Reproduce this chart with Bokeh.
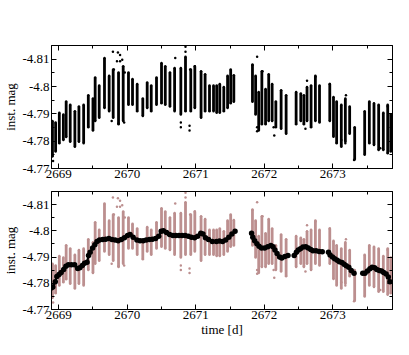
from bokeh.plotting import figure
from bokeh.models import Range1d, LinearAxis, FixedTicker, CustomJSTickFormatter
from bokeh.layouts import column
from bokeh.embed import file_html
from bokeh.resources import INLINE

# ---- data ----
# dense pulsation streaks: time, upper (brighter) mag, lower mag
streak_t = [2668.909, 2668.955, 2669.009, 2669.068, 2669.109, 2669.168, 2669.236, 2669.295,
            2669.364, 2669.432, 2669.500, 2669.532, 2669.591, 2669.668, 2669.736, 2669.795,
            2669.873, 2669.941, 2670.018, 2670.077, 2670.145, 2670.227, 2670.291, 2670.350,
            2670.427, 2670.500, 2670.555, 2670.623, 2670.691, 2670.782, 2670.850, 2670.927,
            2670.986, 2671.077, 2671.136, 2671.200, 2671.259, 2671.305, 2671.350, 2671.409,
            2671.464, 2671.509, 2671.555, 2671.827, 2671.873, 2671.918, 2671.964, 2672.018,
            2672.064, 2672.114, 2672.168, 2672.245, 2672.318, 2672.464, 2672.532, 2672.577,
            2672.623, 2672.682, 2672.745, 2672.805, 2672.955, 2673.009, 2673.055, 2673.123,
            2673.182, 2673.245, 2673.318, 2673.464, 2673.532, 2673.600, 2673.668, 2673.736,
            2673.800, 2673.845]
streak_hi = [-4.7874, -4.7868, -4.7904, -4.7898, -4.7945, -4.7933, -4.7909, -4.7927,
             -4.7933, -4.7968, -4.7956, -4.8033, -4.8004, -4.8104, -4.8039, -4.8062,
             -4.8051, -4.8074, -4.8051, -4.8027, -4.8009, -4.7956, -4.8015, -4.8004,
             -4.8033, -4.8086, -4.8074, -4.8051, -4.8068, -4.8068, -4.8109, -4.8062,
             -4.8074, -4.8056, -4.8045, -4.8004, -4.8004, -4.8004, -4.8009, -4.7998,
             -4.8039, -4.8062, -4.8041, -4.8080, -4.8039, -4.7980, -4.8056, -4.7991,
             -4.8045, -4.8009, -4.7945, -4.7986, -4.7968, -4.7980, -4.7974, -4.7968,
             -4.7998, -4.8004, -4.8039, -4.8004, -4.8009, -4.7962, -4.7945, -4.7933,
             -4.7956, -4.7927, -4.7851, -4.7909, -4.7945, -4.7939, -4.7933, -4.7904,
             -4.7933, -4.7898]
streak_lo = [-4.7745, -4.7762, -4.7792, -4.7804, -4.7815, -4.7798, -4.7780, -4.7798,
             -4.7792, -4.7851, -4.7839, -4.7874, -4.7886, -4.7921, -4.7909, -4.7886,
             -4.7862, -4.7874, -4.7933, -4.7933, -4.7909, -4.7892, -4.7921, -4.7909,
             -4.7933, -4.7939, -4.7933, -4.7927, -4.7909, -4.7898, -4.7909, -4.7909,
             -4.7921, -4.7886, -4.7909, -4.7909, -4.7909, -4.7904, -4.7904, -4.7909,
             -4.7921, -4.7939, -4.7944, -4.7944, -4.7898, -4.7839, -4.7862, -4.7862,
             -4.7874, -4.7874, -4.7851, -4.7845, -4.7827, -4.7862, -4.7874, -4.7862,
             -4.7874, -4.7851, -4.7874, -4.7868, -4.7874, -4.7816, -4.7792, -4.7780,
             -4.7798, -4.7827, -4.7733, -4.7750, -4.7792, -4.7786, -4.7768, -4.7768,
             -4.7756, -4.7762]

# isolated points
out_t = [2669.791, 2669.864, 2669.895, 2669.927, 2669.850, 2669.895, 2669.805, 2669.964,
         2669.955, 2669.873, 2669.773, 2668.905, 2668.918, 2670.850, 2670.850, 2670.700,
         2670.918, 2670.782, 2670.782, 2670.909, 2670.909, 2670.986, 2671.895, 2671.827,
         2671.973, 2671.895, 2671.895, 2672.145, 2672.623, 2672.745, 2672.955, 2673.191,
         2673.309, 2673.691, 2673.800, 2673.123, 2673.182, 2672.600, 2672.136]
out_mag = [-4.8127, -4.8124, -4.8115, -4.8098, -4.8092, -4.8092, -4.8062, -4.8051,
           -4.7868, -4.7865, -4.7874, -4.7745, -4.7727, -4.8145, -4.8127, -4.8104,
           -4.8062, -4.7868, -4.7851, -4.7856, -4.7839, -4.8074, -4.8109, -4.8080,
           -4.8056, -4.7851, -4.7836, -4.7821, -4.8021, -4.8036, -4.8009, -4.7968,
           -4.7731, -4.7774, -4.7927, -4.7804, -4.7792, -4.7845, -4.7851]

# binned means (lower panel)
mean_t = [2668.891, 2668.914, 2668.950, 2668.973, 2669.005, 2669.036, 2669.073, 2669.105,
          2669.141, 2669.186, 2669.232, 2669.277, 2669.309, 2669.345, 2669.377, 2669.414,
          2669.436, 2669.459, 2669.495, 2669.527, 2669.559, 2669.595, 2669.641, 2669.686,
          2669.732, 2669.777, 2669.823, 2669.868, 2669.914, 2669.959, 2670.005, 2670.041,
          2670.086, 2670.141, 2670.186, 2670.232, 2670.277, 2670.323, 2670.368, 2670.414,
          2670.459, 2670.495, 2670.527, 2670.573, 2670.618, 2670.664, 2670.709, 2670.755,
          2670.800, 2670.845, 2670.891, 2670.936, 2670.982, 2671.027, 2671.073, 2671.105,
          2671.141, 2671.186, 2671.241, 2671.300, 2671.345, 2671.391, 2671.436, 2671.482,
          2671.527, 2671.573, 2671.814, 2671.832, 2671.859, 2671.891, 2671.923, 2671.959,
          2672.005, 2672.050, 2672.095, 2672.127, 2672.155, 2672.186, 2672.223, 2672.255,
          2672.300, 2672.345, 2672.436, 2672.468, 2672.495, 2672.527, 2672.564, 2672.605,
          2672.641, 2672.677, 2672.709, 2672.755, 2672.800, 2672.845, 2672.936, 2672.959,
          2672.995, 2673.027, 2673.064, 2673.095, 2673.132, 2673.164, 2673.195, 2673.232,
          2673.268, 2673.309, 2673.436, 2673.468, 2673.505, 2673.541, 2673.573, 2673.609,
          2673.641, 2673.677, 2673.709, 2673.741, 2673.777, 2673.809, 2673.832]
mean_mag = [-4.7782, -4.7786, -4.7806, -4.7826, -4.7833, -4.7841, -4.7853, -4.7865,
            -4.7871, -4.7871, -4.7871, -4.7856, -4.7859, -4.7868, -4.7876, -4.7880,
            -4.7906, -4.7918, -4.7935, -4.7947, -4.7959, -4.7965, -4.7967, -4.7968,
            -4.7971, -4.7967, -4.7965, -4.7962, -4.7967, -4.7974, -4.7982, -4.7986,
            -4.7976, -4.7965, -4.7962, -4.7962, -4.7965, -4.7967, -4.7968, -4.7971,
            -4.7979, -4.7998, -4.8000, -4.7994, -4.7986, -4.7982, -4.7982, -4.7982,
            -4.7982, -4.7982, -4.7979, -4.7976, -4.7974, -4.7979, -4.7991, -4.7988,
            -4.7974, -4.7967, -4.7959, -4.7959, -4.7961, -4.7959, -4.7965, -4.7976,
            -4.7988, -4.7998, -4.7991, -4.7976, -4.7962, -4.7951, -4.7941, -4.7935,
            -4.7935, -4.7939, -4.7944, -4.7939, -4.7927, -4.7914, -4.7900, -4.7896,
            -4.7902, -4.7906, -4.7906, -4.7918, -4.7927, -4.7932, -4.7938, -4.7939,
            -4.7935, -4.7929, -4.7924, -4.7924, -4.7921, -4.7920, -4.7918, -4.7908,
            -4.7900, -4.7894, -4.7888, -4.7882, -4.7879, -4.7873, -4.7867, -4.7861,
            -4.7849, -4.7838, -4.7838, -4.7838, -4.7847, -4.7855, -4.7861, -4.7859,
            -4.7853, -4.7849, -4.7847, -4.7841, -4.7835, -4.7824, -4.7806]

x_ticks = [2669, 2670, 2671, 2672, 2673]
x_tick_labels = ["2669", "2670", "2671", "2672", "2673"]
y_ticks = [-4.81, -4.8, -4.79, -4.78, -4.77]
y_tick_labels = ["-4.81", "-4.8", "-4.79", "-4.78", "-4.77"]

FONT = "'Liberation Serif', 'Times New Roman', serif"
X0, X1 = 2668.895, 2673.87
Y0, Y1 = -4.77, -4.815


def make_fig(height, top, bottom, show_xlabel):
    p = figure(width=393, height=height, output_backend="svg", toolbar_location=None,
               x_range=Range1d(X0, X1), y_range=Range1d(Y0, Y1),
               min_border_left=34, min_border_right=1, min_border_top=top,
               min_border_bottom=bottom, x_axis_type=None, y_axis_type=None)
    p.grid.visible = False
    p.outline_line_color = "black"
    p.outline_line_width = 1
    p.background_fill_color = "white"
    p.border_fill_color = "white"
    xminor = [x + 0.5 for x in [2668] + x_ticks]
    yminor = [y + 0.005 for y in [-4.815] + y_ticks]
    empty = CustomJSTickFormatter(code="return ''")
    for loc in ("below", "above"):
        ax = LinearAxis(ticker=FixedTicker(ticks=x_ticks, minor_ticks=xminor))
        ax.major_tick_in = 5
        ax.major_tick_out = 0
        ax.minor_tick_in = 3
        ax.minor_tick_out = 0
        ax.axis_line_color = "black"
        ax.major_tick_line_color = "black"
        ax.minor_tick_line_color = "black"
        ax.major_label_text_font = FONT
        ax.major_label_text_font_size = "13px"
        ax.major_label_text_color = "black"
        ax.major_label_standoff = 1
        if loc == "below":
            ax.major_label_overrides = dict(zip(x_ticks, x_tick_labels))
            if show_xlabel:
                ax.axis_label = "time [d]"
                ax.axis_label_text_font = FONT
                ax.axis_label_text_font_size = "13px"
                ax.axis_label_text_font_style = "normal"
                ax.axis_label_text_color = "black"
                ax.axis_label_standoff = 0
        else:
            ax.formatter = empty
            ax.major_label_standoff = 0
        p.add_layout(ax, loc)
    for loc in ("left", "right"):
        ay = LinearAxis(ticker=FixedTicker(ticks=y_ticks, minor_ticks=yminor))
        ay.major_tick_in = 5
        ay.major_tick_out = 0
        ay.minor_tick_in = 3
        ay.minor_tick_out = 0
        ay.axis_line_color = "black"
        ay.major_tick_line_color = "black"
        ay.minor_tick_line_color = "black"
        ay.major_label_text_font = FONT
        ay.major_label_text_font_size = "13px"
        ay.major_label_text_color = "black"
        ay.major_label_standoff = 2
        if loc == "left":
            ay.major_label_overrides = dict(zip(y_ticks, y_tick_labels))
            ay.axis_label = "inst. mag"
            ay.axis_label_text_font = FONT
            ay.axis_label_text_font_size = "13px"
            ay.axis_label_text_font_style = "normal"
            ay.axis_label_text_color = "black"
            ay.axis_label_standoff = 1
        else:
            ay.formatter = empty
            ay.major_label_standoff = 0
        p.add_layout(ay, loc)
    return p


def draw_scatter(p, color):
    p.segment(x0=streak_t, y0=streak_hi, x1=streak_t, y1=streak_lo,
              line_color=color, line_width=2.8)
    p.scatter(x=streak_t + streak_t, y=streak_hi + streak_lo, size=2.5,
              marker="circle", fill_color=color, line_color=None)
    p.scatter(x=out_t, y=out_mag, size=2.5, marker="circle",
              fill_color=color, line_color=None)


p1 = make_fig(188, 45, 20, False)
draw_scatter(p1, "black")

p2 = make_fig(151, 3, 22, True)
draw_scatter(p2, "#bc8f8f")

# binned mean curve, broken at data gaps
xs, ys = [[mean_t[0]]], [[mean_mag[0]]]
for i in range(1, len(mean_t)):
    if mean_t[i] - mean_t[i - 1] > 0.07:
        xs.append([])
        ys.append([])
    xs[-1].append(mean_t[i])
    ys[-1].append(mean_mag[i])
p2.multi_line(xs=xs, ys=ys, line_color="black", line_width=2.2)
p2.scatter(x=mean_t, y=mean_mag, size=5.5, marker="circle", fill_color="black", line_color=None)

layout = column(p1, p2, spacing=0)
open("out.html", "w").write(file_html(layout, INLINE))
